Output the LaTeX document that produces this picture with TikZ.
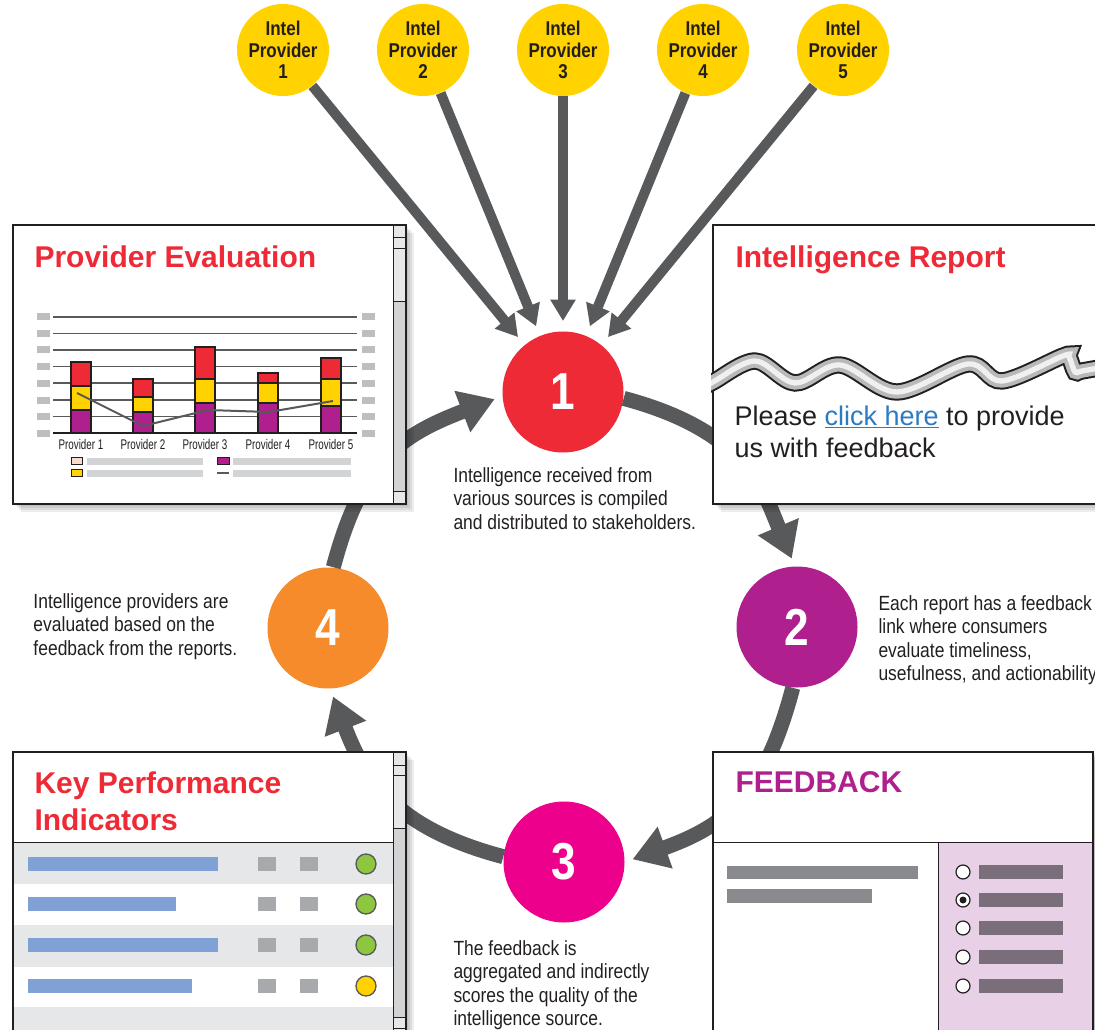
\documentclass[tikz,border=0pt]{standalone}
\usepackage{fontspec}
\setmainfont{Liberation Sans}
\newfontfamily\condfont[FakeStretch=0.85]{Liberation Sans}
\newfontfamily\narrowfont[FakeStretch=0.7]{Liberation Sans}
\usetikzlibrary{arrows.meta}

\definecolor{stepred}{HTML}{ED2A36}
\definecolor{steppurple}{HTML}{AF1F8D}
\definecolor{stepmagenta}{HTML}{EC008C}
\definecolor{steporange}{HTML}{F68B2C}
\definecolor{intelyellow}{HTML}{FFD200}
\definecolor{arrowgray}{HTML}{58595B}
\definecolor{inkdark}{HTML}{231F20}
\definecolor{linkblue}{HTML}{2B7BC1}
\definecolor{kpiblue}{HTML}{7FA1D5}
\definecolor{kpigreen}{HTML}{8DC63F}
\definecolor{rowgray}{HTML}{E6E7E8}
\definecolor{boxgray}{HTML}{A7A9AC}
\definecolor{tickgray}{HTML}{BCBEC0}
\definecolor{trackgray}{HTML}{D1D3D4}
\definecolor{fbpink}{HTML}{E8D1E6}
\definecolor{fbbar}{HTML}{7A6E7B}
\definecolor{fbgray}{HTML}{898A8D}
\definecolor{legendpink}{HTML}{F9DCD0}

\tikzset{every picture/.style={line width=0.75pt}}
\tikzset{
  step circle/.style={circle, minimum size=90.75pt, inner sep=0pt, text=white,
    font=\condfont\bfseries\fontsize{39}{39}\selectfont},
  intel/.style={circle, fill=intelyellow, minimum size=69pt, inner sep=0pt, align=center,
    text=inkdark, font=\condfont\bfseries\fontsize{15}{16.2}\selectfont},
  feed/.style={draw=arrowgray, line width=7.5pt, -{Triangle[width=18pt,length=16pt]}, shorten >=7.5pt},
  loop/.style={draw=arrowgray, line width=11.25pt, -{Triangle[width=31.5pt,length=26pt]}, shorten >=6pt},
  frame/.style={draw=inkdark, line width=1.5pt},
  title/.style={anchor=north west, inner sep=0pt, align=left, text=stepred,
    font=\bfseries\fontsize{22.5}{27.75}\selectfont},
  caption/.style={anchor=north west, inner sep=0pt, align=left, text=inkdark,
    font=\condfont\fontsize{15.4}{17.5}\selectfont},
  chart label/.style={inner sep=0pt, text=inkdark, font=\narrowfont\fontsize{10.5}{11}\selectfont}
}
\newcommand{\panelshadow}[4]{\foreach \s in {2,4,6,8} {\fill[black,opacity=0.07] (#1+\s,#2+\s) rectangle (#3+\s,#4+\s);}}

\begin{document}
\begin{tikzpicture}[x=0.75pt,y=0.75pt,yscale=-1,xscale=1]
	\useasboundingbox (0,0) rectangle (1095,1030);

	% Step circles
	\node[step circle, fill=stepred] (c1) at (563,392) {1};
	\node[step circle, fill=steppurple] (c2) at (797,627) {2};
	\node[step circle, fill=stepmagenta] (c3) at (564,862) {3};
	\node[step circle, fill=steporange] (c4) at (328,628) {4};

	% Intel providers
	\node[intel] (p1) at (283,50) {Intel\\Provider\\1};
	\node[intel] (p2) at (423,50) {Intel\\Provider\\2};
	\node[intel] (p3) at (563,50) {Intel\\Provider\\3};
	\node[intel] (p4) at (703,50) {Intel\\Provider\\4};
	\node[intel] (p5) at (843,50) {Intel\\Provider\\5};
	\foreach \p in {p1,p2,p3,p4,p5}
		\draw[feed] (\p) -- (c1);

	%Curve Lines: the cycle
	\draw[loop] (c1.-6) .. controls (748.6,431.7) and (763.8,492.4) .. (c2.92);
	\draw[loop] (c2.-94) .. controls (764.5,794) and (728,825) .. (c3.0);
	\draw[loop] (c3.175) .. controls (397,828.5) and (366,782) .. (c4.-88);
	\draw[loop] (c4.85) .. controls (361.5,460.7) and (400.3,435.4) .. (c1.184);

	%Shape: Provider Evaluation panel
	\panelshadow{13}{225}{406}{504}
	\fill[white] (13,225) rectangle (406,504);
	\fill[rowgray] (393,225) rectangle (406,302);
	\fill[trackgray] (393,302) rectangle (406,491);
	\fill[rowgray] (393,491) rectangle (406,504);
	\draw[inkdark] (393,225) -- (393,504) (393,238) -- (406,238) (393,249) -- (406,249) (393,302) -- (406,302) (393,491) -- (406,491);
	\draw[frame] (13,225) rectangle (406,504);
	\node[title] (tpe) at (34,245) {Provider Evaluation};
	% chart grid
	\foreach \y in {317,333.5,350,366.5,383,400,416.5} {
		\draw[arrowgray, line width=1.2pt] (53,\y) -- (357,\y);
		\fill[tickgray] (37,\y-3.5) rectangle (50,\y+3.5);
		\fill[tickgray] (362,\y-3.5) rectangle (375,\y+3.5);
	}
	\fill[tickgray] (37,429.5) rectangle (50,436.5);
	\fill[tickgray] (362,429.5) rectangle (375,436.5);
	% bars
	\foreach \x/\p/\m/\r [count=\i] in {81/410/386/362, 143/412/397/379, 205/403/379/347, 268/403/383/373, 331/406/379/358} {
		\filldraw[fill=steppurple, draw=inkdark, line width=0.8pt] (\x-10,433) rectangle (\x+10,\p);
		\filldraw[fill=intelyellow, draw=inkdark, line width=0.8pt] (\x-10,\p) rectangle (\x+10,\m);
		\filldraw[fill=stepred, draw=inkdark, line width=0.8pt] (\x-10,\m) rectangle (\x+10,\r);
		\node[chart label] (lab\i) at (\x,444) {Provider \i};
	}
	\draw[inkdark, line width=1.2pt] (53,433) -- (357,433);
	\draw[arrowgray, line width=1.5pt] (77,393) -- (143,426) -- (208,410) -- (269,412) -- (333,401);
	% legend
	\filldraw[fill=legendpink, draw=inkdark] (71,457) rectangle (82,464);
	\filldraw[fill=intelyellow, draw=inkdark] (71,469) rectangle (82,476);
	\filldraw[fill=steppurple, draw=inkdark] (217,457) rectangle (229,464);
	\draw[arrowgray, line width=1.5pt] (217,473) -- (229,473);
	\fill[trackgray] (87,458) rectangle (203,465);
	\fill[trackgray] (87,470) rectangle (203,477);
	\fill[trackgray] (233,458) rectangle (351,465);
	\fill[trackgray] (233,470) rectangle (351,477);

	%Shape: Intelligence Report panel
	\panelshadow{713}{225}{1110}{504}
	\fill[white] (713,225) rectangle (1110,504);
	\draw[frame] (713,225) rectangle (1110,504);
	\begin{scope}
		\clip (711,226) rectangle (1110,503);
		\foreach \w/\c in {13/inkdark, 10/gray!55, 4/gray!12}
			\draw[line width=\w pt, \c] plot[smooth, tension=0.55] coordinates {(700,389) (713,382) (755,361) (795,383) (840,365) (897,392) (968,364) (1002,381) (1063,356) (1069,357) (1075,372) (1082,371) (1110,366)};
	\end{scope}
	\node[title] (tir) at (735,245) {Intelligence Report};
	\node[anchor=north west, inner sep=0pt, align=left, text=inkdark, font=\fontsize{20.25}{24}\selectfont] (rtext) at (734,405) {Please {\color{linkblue}\underline{click here}} to provide\\us with feedback};

	%Shape: Key Performance Indicators panel
	\panelshadow{13}{752}{406}{1040}
	\fill[white] (13,752) rectangle (406,1040);
	\fill[rowgray] (13,842) rectangle (393,884);
	\fill[rowgray] (13,925) rectangle (393,967);
	\fill[rowgray] (13,1007) rectangle (393,1040);
	\draw[inkdark] (13,842) -- (393,842);
	\foreach \y/\w/\c in {864/218/kpigreen, 904/176/kpigreen, 945/218/kpigreen, 986/192/intelyellow} {
		\fill[kpiblue] (28,\y-7) rectangle (\w,\y+7);
		\fill[boxgray] (258,\y-7) rectangle (276,\y+7);
		\fill[boxgray] (300,\y-7) rectangle (318,\y+7);
		\filldraw[fill=\c, draw=arrowgray, line width=1pt] (366,\y) circle[radius=10];
	}
	\fill[rowgray] (393,752) rectangle (406,828);
	\fill[trackgray] (393,828) rectangle (406,1017);
	\fill[rowgray] (393,1017) rectangle (406,1040);
	\draw[inkdark] (393,752) -- (393,1040) (393,765) -- (406,765) (393,775) -- (406,775) (393,828) -- (406,828) (393,1017) -- (406,1017) (393,1028) -- (406,1028);
	\draw[frame] (13,1040) -- (13,752) -- (406,752) -- (406,1040);
	\node[title] (tkpi) at (34,771) {Key Performance\\Indicators};

	%Shape: Feedback panel
	\panelshadow{713}{752}{1093}{1040}
	\fill[white] (713,752) rectangle (1093,1040);
	\fill[fbpink] (938,842) rectangle (1093,1040);
	\draw[inkdark] (713,842) -- (1093,842) (938,842) -- (938,1040);
	\fill[fbgray] (727,866) rectangle (918,879);
	\fill[fbgray] (727,889) rectangle (872,903);
	\foreach \y in {872,900,928,957,986} {
		\filldraw[fill=white, draw=inkdark, line width=0.9pt] (963,\y) circle[radius=7];
		\fill[fbbar] (979,\y-7) rectangle (1063,\y+7);
	}
	\fill[inkdark] (963,900) circle[radius=3.5];
	\draw[frame] (713,1040) -- (713,752) -- (1093,752) -- (1093,1040);
	\node[title, text=steppurple] (tfb) at (735,771) {FEEDBACK};

	% Text Node
	\node[caption] (t1) at (453,467) {Intelligence received from\\various sources is compiled\\and distributed to stakeholders.};
	% Text Node
	\node[caption] (t2) at (878,595) {Each report has a feedback\\link where consumers\\evaluate timeliness,\\usefulness, and actionability};
	% Text Node
	\node[caption] (t3) at (453,940) {The feedback is\\aggregated and indirectly\\scores the quality of the\\intelligence source.};
	% Text Node
	\node[caption] (t4) at (33,593) {Intelligence providers are\\evaluated based on the\\feedback from the reports.};

\end{tikzpicture}
\end{document}
